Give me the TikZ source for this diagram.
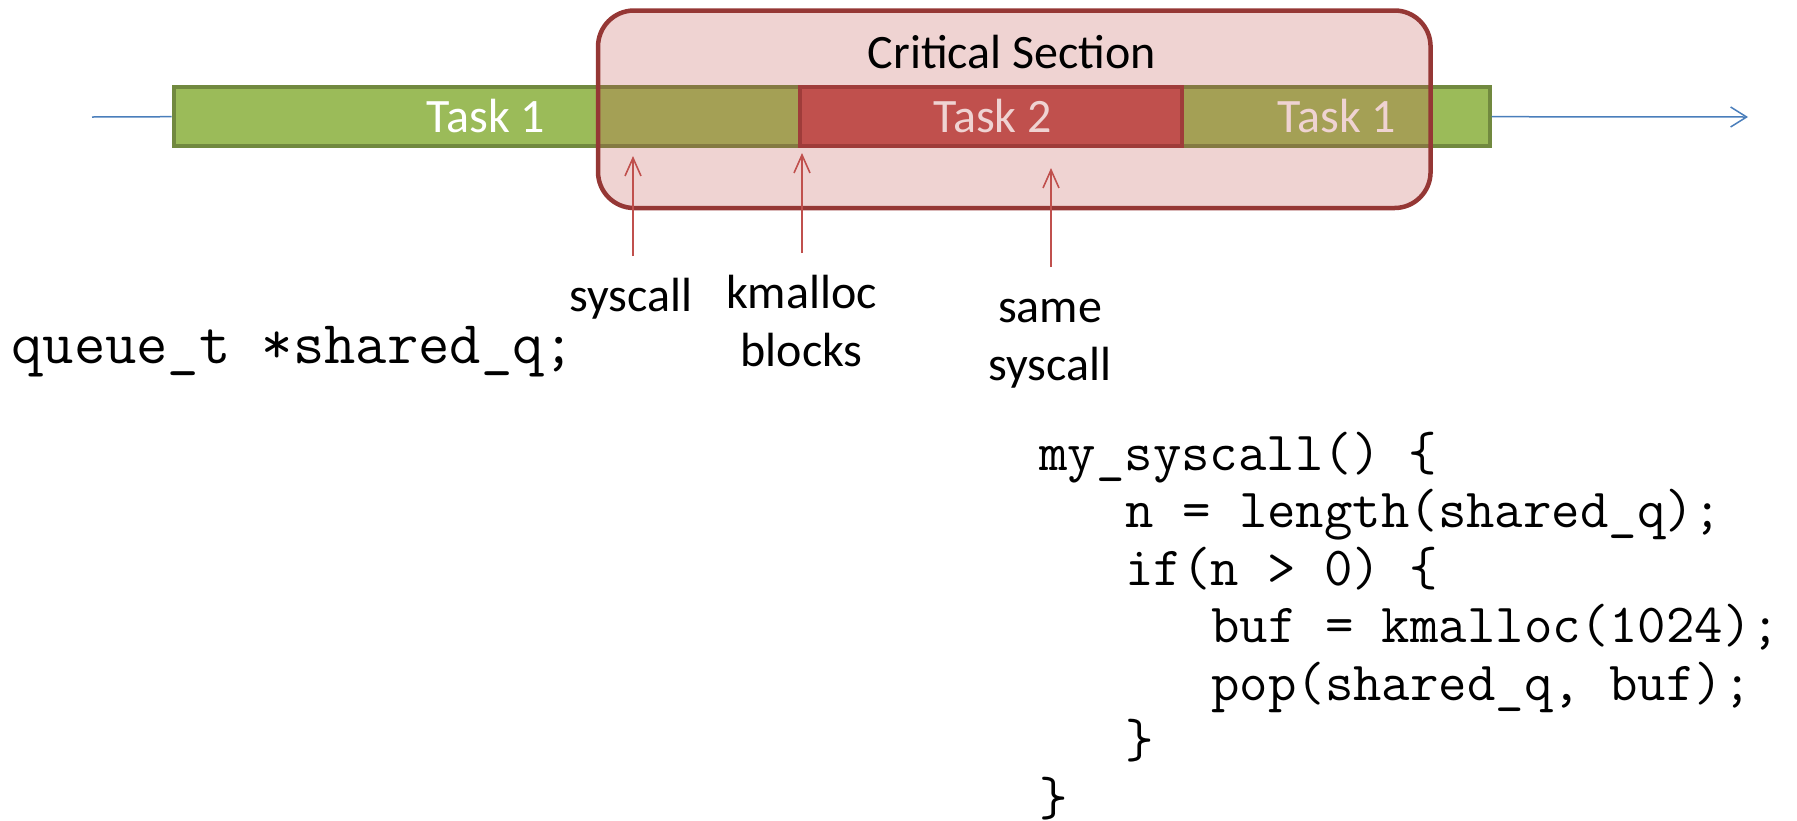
\documentclass[tikz,border=0pt]{standalone}
\usepackage{fontspec}
\setmainfont{Carlito}
\usetikzlibrary{arrows.meta}
\definecolor{barGreen}{HTML}{9BBB59}
\definecolor{barGreenDark}{HTML}{71893F}
\definecolor{taskRed}{HTML}{C0504D}
\definecolor{taskRedDark}{HTML}{943634}
\definecolor{csBorder}{HTML}{953735}
\definecolor{lineBlue}{HTML}{4A7EBB}
\definecolor{arrowRed}{HTML}{C0504D}
\begin{document}
\begin{tikzpicture}[x=0.5pt,y=-0.5pt,
  lbl/.style={font=\fontsize{24}{29}\selectfont, inner sep=0pt, anchor=base},
  tasktext/.style={lbl, text=white},
  bar/.style={draw=barGreenDark, fill=barGreen, line width=2pt, minimum width=658pt, minimum height=29.65pt, inner sep=0pt},
  taskbox/.style={draw=taskRedDark, fill=taskRed, line width=2pt, minimum width=191pt, minimum height=29.65pt, inner sep=0pt},
  crit/.style={draw=csBorder, line width=2.25pt, fill=taskRed, fill opacity=0.25, draw opacity=1, rounded corners=18pt, minimum width=416.25pt, minimum height=98.75pt, inner sep=0pt},
  blueline/.style={draw=lineBlue, line width=0.75pt},
  redarrow/.style={draw=arrowRed, line width=0.8pt, -{Straight Barb[length=9pt,width=8pt]}},
  code/.style={font=\fontsize{27.6}{30}\ttfamily, inner sep=0pt, anchor=base west},
]
\useasboundingbox (0,0) rectangle (1797,820);

% timeline bars
\node[bar] (bar) at (831.5,116.7) {};
\node[taskbox] (task2) at (991,116.7) {};
\node[tasktext] (t1a) at (486,132.7) {Task 1};
\node[tasktext] (t2) at (992.6,132.7) {Task 2};
\node[tasktext] (t1b) at (1337,132.7) {Task 1};

% blue time axis
\coordinate (axL) at (92,117);
\coordinate (axR) at (1748,117);
\draw[blueline] (axL) -- (bar.west);
\draw[blueline, -{Straight Barb[length=8pt,width=10pt]}] (bar.east) -- (axR);

% critical section overlay
\node[crit] (cs) at (1014.3,109.25) {};
\node[lbl] (cstext) at (1012,68) {Critical Section};

% arrows
\coordinate (h1) at (633,156);
\coordinate (s1) at (633,256);
\coordinate (h2) at (802,153);
\coordinate (s2) at (802,253);
\coordinate (h3) at (1051,168);
\coordinate (s3) at (1051,267);
\draw[redarrow] (s1) -- (h1);
\draw[redarrow] (s2) -- (h2);
\draw[redarrow] (s3) -- (h3);

% labels
\node[lbl] (lsys) at (631,311.7) {syscall};
\node[lbl] (lkm) at (801.5,308.3) {\begin{tabular}[t]{@{}c@{}}kmalloc\\blocks\end{tabular}};
\node[lbl] (lsame) at (1050,322.7) {\begin{tabular}[t]{@{}c@{}}same\\syscall\end{tabular}};

% code
\node[code, font=\fontsize{30.4}{33}\ttfamily] (qdecl) at (11,363.3) {queue\_t *shared\_q;};
\node[code] (c1) at (1039,470) {my\_syscall() \{};
\node[code] (c2) at (1125,527.5) {n = length(shared\_q);};
\node[code] (c3) at (1125,585) {if(n > 0) \{};
\node[code] (c4) at (1211,642.5) {buf = kmalloc(1024);};
\node[code] (c5) at (1211,700) {pop(shared\_q, buf);};
\node[code] (c6) at (1125,757.5) {\}};
\node[code] (c7) at (1039,815) {\}};
\end{tikzpicture}
\end{document}
